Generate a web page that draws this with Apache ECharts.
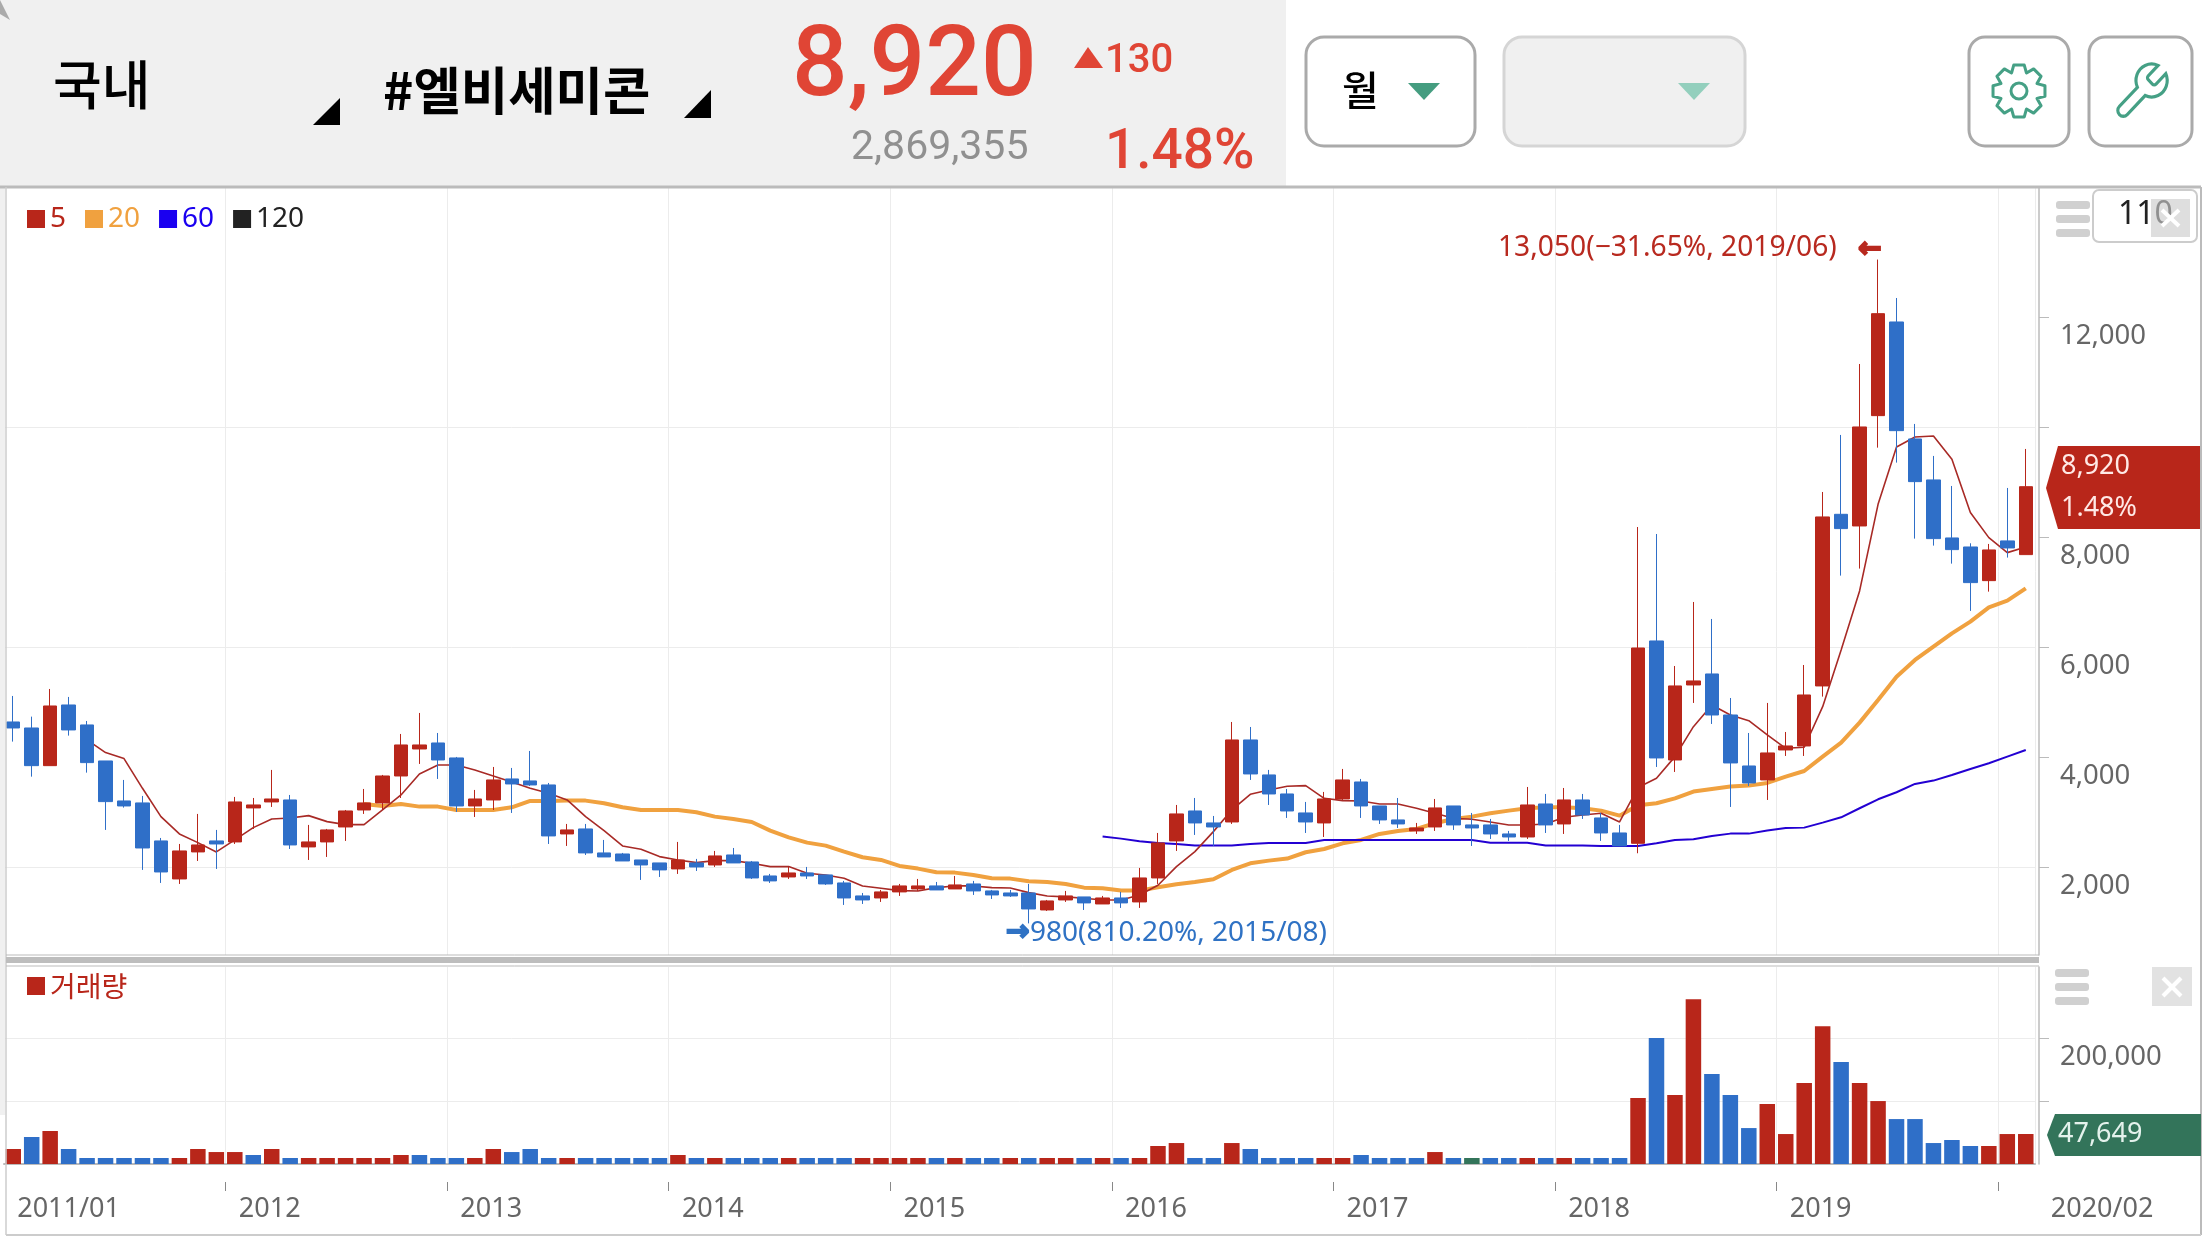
<!DOCTYPE html>
<html><head><meta charset="utf-8">
<style>html,body{margin:0;padding:0;background:#fff}#c{width:2208px;height:1242px}</style>
<script src="https://cdn.jsdelivr.net/npm/echarts@6/dist/echarts.min.js"></script>
</head><body><div id="c"></div>
<script>
const years = [2011,2012,2013,2014,2015,2016,2017,2018,2019,2020];
const categories = [];
years.forEach(y => { for (let m = 1; m <= 12; m++) { if (y === 2020 && m > 2) break; categories.push(y + '/' + String(m).padStart(2, '0')); } });
const opens = [4642,4533,3848,4951,4588,3933,3206,3170,2479,1788,
2279,2479,2461,3079,3188,3224,2370,2461,2733,3042,
3170,3660,4151,4260,3988,3115,3224,3606,3570,3497,
2606,2697,2261,2242,2133,2079,1970,2079,2042,2224,
2097,1842,1824,1897,1861,1715,1479,1442,1552,1606,
1661,1606,1697,1570,1533,1533,1224,1406,1461,1333,
1442,1370,1806,2479,3024,2806,2824,4315,3679,3333,
2988,2806,3242,3551,3115,2861,2661,2733,3115,2770,
2770,2606,2551,3151,2788,3224,2897,2624,2436,6115,
3951,5315,5515,4769,3842,3588,4133,4206,5297,8418,
8206,10212,11915,9788,9043,7988,7824,7212,7934,7685];
const closes = [4533,3848,4933,4497,3903,3194,3115,2351,1915,2297,
2406,2424,3188,3133,3242,2406,2461,2679,3024,3170,
3660,4224,4224,3951,3115,3242,3588,3515,3497,2570,
2679,2261,2188,2115,2042,1952,2133,2006,2206,2079,
1806,1752,1897,1842,1697,1442,1406,1552,1661,1661,
1588,1679,1570,1497,1479,1242,1388,1479,1352,1442,
1352,1806,2442,2970,2806,2733,4315,3697,3333,3024,
2824,3242,3588,3115,2861,2788,2715,3079,2770,2715,
2606,2551,3133,2770,3224,2951,2624,2388,5987,3988,
5297,5388,4769,3897,3533,4079,4206,5133,8370,8158,
10006,12066,9939,9012,7976,7776,7176,7770,7806,8920];
const lows = [4285,3648,3848,4394,3721,2679,3085,1952,1715,1697,
2115,1970,2424,2697,3097,2333,2133,2188,2479,2970,
3042,3260,3879,3606,3006,2915,3042,2988,3479,2424,
2388,2224,2188,2115,1770,1824,1879,1933,2006,2079,
1788,1715,1788,1788,1679,1315,1333,1370,1479,1570,
1588,1606,1497,1424,1461,980,1206,1370,1224,1333,
1261,1261,1697,2297,2588,2388,2788,3588,3133,2897,
2624,2551,3224,2897,2788,2715,2606,2661,2679,2388,
2515,2479,2515,2624,2606,2879,2479,2388,2255,3824,
3733,4988,4606,3097,3479,3224,4024,4024,5103,7303,
7431,9630,9358,7976,7849,7521,6661,7012,7631,7685];
const highs = [5115,4739,5242,5097,4660,3933,3588,3297,2533,2424,
2970,2679,3279,3260,3770,3315,2770,2697,3042,3424,
3679,4424,4806,4442,4006,3406,3824,3806,4115,3533,
2788,2788,2497,2261,2133,2079,2461,2152,2297,2351,
2115,1879,2006,2006,1861,1752,1533,1588,1697,1788,
1733,1842,1752,1588,1588,1697,1406,1570,1461,1479,
1552,1988,2624,3133,3260,2933,4642,4551,3770,3424,
3188,3370,3788,3606,3115,3260,2806,3242,3115,2988,
2879,2661,3460,3333,3442,3333,2988,2770,8187,8060,
5660,6824,6515,5078,4442,4988,4460,5678,8824,9861,
11151,13050,12351,10061,9479,8933,7891,7879,8897,9606];
const ma5 = [null,null,null,null,
4315,4085,3976,3436,2921,2606,2448,2279,2497,2721,2879,2897,2939,2830,2776,2776,3042,3315,3697,3860,3860,3770,3660,3551,3436,3345,3224,2921,
2667,2388,2327,2194,2133,2085,2121,2121,2073,2012,2012,1891,1861,1800,1661,1618,1576,1570,1630,1661,1661,1630,1624,1539,1479,1461,1436,1406,1406,1497,1673,2012,2285,
2648,3042,3327,3406,3473,3485,3254,3212,3206,3151,3151,3073,2982,2891,2873,2824,2770,2770,2788,2909,2951,2982,2824,
3450,3618,4012,4557,4951,4769,4666,4406,4163,4182,4921,5950,7025,8600,9642,9824,9842,9418,8449,7994,7721,7824];
const ma20 = [null,null,null,null,null,null,null,null,null,null,null,null,null,null,null,null,null,null,null,
3151,3115,3151,3103,3103,3042,3042,3042,3091,3206,3206,3212,3212,
3164,3091,3042,3042,3042,3000,2921,2879,2824,2667,2545,2448,2394,2285,2182,2133,2024,1976,1909,1903,1861,1800,1794,1745,1733,1697,1630,1618,1576,1576,
1636,1691,1733,1782,1952,2073,2121,2158,2273,2333,2436,2497,2606,2661,2697,2800,2879,2921,2982,3030,3073,3091,3091,3073,
3030,2939,3127,3164,3254,3376,3424,3467,3485,3533,3648,3751,4012,4266,4630,5042,5466,5769,6012,6254,6466,6727,6848,7072];
const ma60 = new Array(59).fill(null).concat([
2558,2521,2473,2442,2424,2394,2394,2394,2424,2442,2442,2442,2497,2497,2497,2497,2497,2497,2497,2497,2497,2448,2448,2448,2394,2394,2394,2388,2388,2388,
2436,2497,2509,2570,2612,2612,2667,2715,2721,2812,2909,3073,3236,3364,3515,3576,3679,3788,3891,4012,4133]);
const volumes = [23800,42900,52400,23800,9500,9500,9500,9500,9500,9500,
23800,19000,19000,14300,23800,9500,9500,9500,9500,9500,
9500,14300,14300,9500,9500,9500,23800,19000,23800,9500,
9500,9500,9500,9500,9500,9500,14300,9500,9500,9500,
9500,9500,9500,9500,9500,9500,9500,9500,9500,9500,
9500,9500,9500,9500,9500,9500,9500,9500,9500,9500,
9500,9500,28600,33300,9500,9500,33300,23800,9500,9500,
9500,9500,9500,14300,9500,9500,9500,19000,9500,9500,
9500,9500,9500,9500,9500,9500,9500,9500,104800,200000,
109500,261900,142900,109500,57100,95200,47600,128600,219000,161900,
128600,100000,71400,71400,33300,38100,28600,28600,47600,47649];
const volColorList = [
'r','b','r','b','b','b','b','b','b','r',
'r','r','r','b','r','b','r','r','r','r',
'r','r','b','b','b','r','r','b','b','b',
'r','b','b','b','b','b','r','b','r','b',
'b','b','r','b','b','b','r','r','r','r',
'b','r','b','b','r','b','r','r','b','r',
'b','r','r','r','b','b','r','b','b','b',
'b','r','r','b','b','b','b','r','b','g',
'b','b','r','b','r','b','b','b','r','b',
'r','r','b','b','b','r','r','r','r','b',
'r','r','b','b','b','b','b','r','r','r'];
const legendNames = ['5','20','60','120'];
const yTicks = [2000,4000,6000,8000,10000,12000];
const yLabels = [2000,4000,6000,8000,12000];
const volTicks = [100000,200000];
const volLabels = [200000];

const RED='#b8261a', BLUE='#2f6fc8', GREEN='#33745a', GRID='#ececec', AXIS='#bbbbbb', ORANGE='#f0a13f', NAVY='#2300d2', LBL='#666666';
const NS='"Noto Sans","Noto Sans CJK KR",sans-serif', RB='Roboto,"Noto Sans",sans-serif', KR='"Noto Sans CJK KR","Noto Sans",sans-serif';
const dirColor = {r:RED,b:BLUE,g:GREEN};

echarts.graphic.registerShape('wrenchIcon', echarts.graphic.extendPath('M14.7 6.3a1 1 0 0 0 0 1.4l1.6 1.6a1 1 0 0 0 1.4 0l3.77-3.77a6 6 0 0 1-7.94 7.94l-6.91 6.91a2.12 2.12 0 0 1-3-3l6.91-6.91a6 6 0 0 1 7.94-7.94l-3.76 3.76z', {}));

const T=(text,x,y,size,fill,o={})=>({type:'text',silent:true,z:o.z||50,style:{text,x,y,fill,fontSize:size,fontFamily:o.family||NS,fontWeight:o.weight||'normal',textAlign:o.align||'left',textVerticalAlign:'middle',stroke:o.stroke||null,lineWidth:o.lw||0}});
const R=(x,y,w,h,fill,o={})=>({type:'rect',silent:true,z:o.z||40,shape:{x,y,width:w,height:h,r:o.r||0},style:{fill,stroke:o.stroke||null,lineWidth:o.lw||0}});
const P=(pts,fill,z=45)=>({type:'polygon',silent:true,z,shape:{points:pts},style:{fill}});
const L=(x1,y1,x2,y2,stroke,lw=1,z=40)=>({type:'line',silent:true,z,shape:{x1,y1,x2,y2},style:{stroke,lineWidth:lw}});
function gear(cx,cy){const pts=[];const n=8;for(let k=0;k<n;k++){const a=k*2*Math.PI/n-Math.PI/2;const w=0.2;
[[a-0.39,19.5],[a-w,26.5],[a+w,26.5],[a+0.39,19.5]].forEach(([t,r])=>pts.push([cx+r*Math.cos(t),cy+r*Math.sin(t)]));}
return {type:'polygon',silent:true,z:45,shape:{points:pts},style:{fill:'none',stroke:'#45a085',lineWidth:3,lineJoin:'round'}};}
const graphics=[
 R(0,0,1286,186,'#f0f0f0'),
 P([[0,0],[10,20],[0,14]],'#aaaaaa'),
 R(0,187,5,928,'#f0f0f0'),
 T('국내',53,85,53,'#000',{family:KR,weight:500}),
 P([[340,98],[340,125],[313,125]],'#000'),
 T('#엘비세미콘',383,90,51.5,'#000',{family:KR,weight:'bold'}),
 P([[711,90],[711,118],[684,118]],'#000'),
 T('8,920',792,70,98,'#e04535',{family:RB,weight:500}),
 P([[1088,47],[1103,68],[1074,68]],'#e04535'),
 T('130',1105,62,40,'#e04535',{family:RB,weight:500}),
 T('2,869,355',851,149,41,'#909090',{family:RB}),
 T('1.48%',1105,154,55,'#e04535',{family:RB,weight:500}),
 // buttons
 R(1306,37,169,109,'#fff',{r:18,stroke:'#aaaaaa',lw:3}),
 T('월',1342,90,40,'#000',{family:KR,weight:500}),
 P([[1408,83],[1440,83],[1424,100]],'#459d80'),
 R(1504,37,241,109,'#f0f0f0',{r:18,stroke:'#d5d5d5',lw:3}),
 P([[1678,83],[1710,83],[1694,100]],'#93cfbd'),
 R(1969,37,100,109,'#fff',{r:16,stroke:'#aaaaaa',lw:3}),
 gear(2019,91),
 {type:'circle',silent:true,z:45,shape:{cx:2019,cy:91,r:8},style:{fill:'none',stroke:'#45a085',lineWidth:3}},
 R(2089,37,103,109,'#fff',{r:16,stroke:'#aaaaaa',lw:3}),
 {type:'wrenchIcon',silent:true,z:45,x:2110,y:58.5,scaleX:2.6,scaleY:2.75,style:{fill:'none',stroke:'#45a085',lineWidth:1.2}},
 // frame
 L(0,187,2201,187,AXIS,3),
 L(6,187,6,1235,'#cccccc',1.5),
 L(2201,187,2201,1235,AXIS,2),
 L(6,1235,2201,1235,'#cccccc',2),
 L(6,955,2039,955,AXIS,1),
 R(6,957,2033,6,'#bdbdbd'),
 L(6,966,2039,966,AXIS,1),
 // hides the closing tick ECharts adds at the axis end
 R(2030,1178,12,16,'#fff'),
 // main panel chrome
 R(2056,201,34,8,'#d0d0d0',{r:3}),R(2056,215,34,8,'#d0d0d0',{r:3}),R(2056,229,34,8,'#d0d0d0',{r:3}),
 R(2093,190,104,52,'#fff',{r:6,stroke:'#cccccc',lw:2}),
 T('110',2118,215,32,'#222'),
 R(2151,199,39,38,'rgba(205,205,205,0.65)',{z:52}),
 L(2162,210,2179,226,'#fff',4,53),L(2179,210,2162,226,'#fff',4,53),
 // annotations
 T('13,050(−31.65%, 2019/06)',1498,248,28.2,'#b8291f'),
 T('←',1858,250,28,'#b8291f',{weight:'bold',family:'"DejaVu Sans"',stroke:'#b8291f',lw:2}),
 T('→',1006,933,28,'#2f72c4',{weight:'bold',family:'"DejaVu Sans"',stroke:'#2f72c4',lw:2}),
 T('980(810.20%, 2015/08)',1030,933,28,'#2f72c4'),
 // price tag
 P([[2046,488],[2058,446],[2200,446],[2200,529],[2058,529]],RED),
 T('8,920',2061,466,27,'#ffe9e6'),
 T('1.48%',2061,508,27,'#ffe9e6'),
 // volume panel chrome
 R(2055,969,34,8,'#d0d0d0',{r:3}),R(2055,983,34,8,'#d0d0d0',{r:3}),R(2055,997,34,8,'#d0d0d0',{r:3}),
 R(2152,967,40,39,'#e2e2e2'),
 L(2163,978,2181,996,'#fff',4,46),L(2181,978,2163,996,'#fff',4,46),
 P([[2047,1135],[2055,1114],[2201,1114],[2201,1156],[2055,1156]],GREEN),
 T('47,649',2058,1134,27,'#e4f2ec')
];
const yearTick = i => i>0 && i%12===0;
const labelAt = i => i===0 || (i%12===0 && i<108) || i===109;
const yearSplit = {show:true,interval:yearTick,lineStyle:{color:GRID,width:1}};
const option={
 animation:false,backgroundColor:'#fff',
 legend:[
  {left:27,top:205,padding:0,itemWidth:18,itemHeight:18,itemGap:19,icon:'rect',selectedMode:false,
   textStyle:{fontFamily:NS,fontSize:28},
   data:[{name:legendNames[0],textStyle:{color:RED}},{name:legendNames[1],textStyle:{color:ORANGE}},{name:legendNames[2],textStyle:{color:'#1a00f0'}},{name:legendNames[3],textStyle:{color:'#222'}}]},
  {left:27,top:972,padding:0,itemWidth:18,itemHeight:18,icon:'rect',selectedMode:false,
   textStyle:{fontFamily:KR,fontSize:28,color:RED},data:['거래량']}
 ],
 grid:[{left:4,width:2031,top:188,height:767},{left:4,width:2031,top:967,height:197}],
 xAxis:[
  {type:'category',gridIndex:0,data:categories,axisLine:{show:false},axisTick:{show:false},axisLabel:{show:false},splitLine:yearSplit},
  {type:'category',gridIndex:1,position:'bottom',data:categories,axisLine:{show:true,lineStyle:{color:AXIS,width:2}},axisTick:{show:false},axisLabel:{show:false},splitLine:yearSplit},
  {type:'category',gridIndex:1,position:'bottom',data:categories,offset:18,axisLine:{show:false},
   axisTick:{show:true,interval:yearTick,length:9,lineStyle:{color:'#888888'}},
   axisLabel:{show:true,interval:i=>labelAt(i),margin:14,align:'left',color:LBL,fontFamily:NS,fontSize:27,
    formatter:(v,i)=> i===109?'{last|'+v+'}':'{a|'+(i===0?v:v.slice(0,4))+'}',
    rich:{a:{padding:[0,0,0,4],color:LBL,fontFamily:NS,fontSize:27},last:{padding:[0,0,0,25],color:LBL,fontFamily:NS,fontSize:27}}}}
 ],
 yAxis:[
  {type:'value',gridIndex:0,position:'right',offset:4,min:405,max:14351,axisLine:{show:true,lineStyle:{color:AXIS,width:1.5}},
   axisTick:{show:true,length:10,customValues:yTicks,lineStyle:{color:AXIS}},
   axisLabel:{show:true,customValues:yLabels,margin:21,verticalAlign:'top',padding:[5,0,0,0],color:LBL,fontFamily:NS,fontSize:27.5,formatter:v=>v.toLocaleString('en-US')},
   splitLine:{show:true,lineStyle:{color:[GRID,'rgba(0,0,0,0)'],width:1}}},
  {type:'value',gridIndex:1,position:'right',offset:4,min:0,max:313000,axisLine:{show:true,lineStyle:{color:AXIS,width:1.5}},
   axisTick:{show:true,length:10,customValues:volTicks,lineStyle:{color:AXIS}},
   axisLabel:{show:true,customValues:volLabels,margin:21,verticalAlign:'top',padding:[5,0,0,0],color:LBL,fontFamily:NS,fontSize:27.5,formatter:v=>v.toLocaleString('en-US')},
   splitLine:{show:true,lineStyle:{color:GRID,width:1}}}
 ],
 series:[
  {name:'20',type:'line',data:ma20,xAxisIndex:0,yAxisIndex:0,symbol:'none',z:2,color:ORANGE,lineStyle:{color:ORANGE,width:4}},
  {name:'60',type:'line',data:ma60,xAxisIndex:0,yAxisIndex:0,symbol:'none',z:2,color:'#1a00f0',lineStyle:{color:NAVY,width:2}},
  {name:'120',type:'line',data:[],xAxisIndex:0,yAxisIndex:0,symbol:'none',z:2,color:'#222222'},
  {name:'5',type:'line',data:ma5,xAxisIndex:0,yAxisIndex:0,symbol:'none',z:2,color:RED,lineStyle:{color:'#a82a26',width:1.6}},
  {name:'시세',type:'candlestick',xAxisIndex:0,yAxisIndex:0,z:3,barWidth:14,
   data:categories.map((c,i)=>[opens[i],closes[i],lows[i],highs[i]]),
   itemStyle:{color:RED,color0:BLUE,borderColor:RED,borderColor0:BLUE,borderWidth:1}},
  {name:'거래량',type:'bar',xAxisIndex:1,yAxisIndex:1,barWidth:15.5,color:RED,
   data:volumes.map((v,i)=>({value:v,itemStyle:{color:dirColor[volColorList[i]]}}))}
 ],
 graphic:{elements:graphics}
};
const chart=echarts.init(document.getElementById('c'),null,{renderer:'canvas',width:2208,height:1242});
chart.setOption(option);
</script></body></html>
